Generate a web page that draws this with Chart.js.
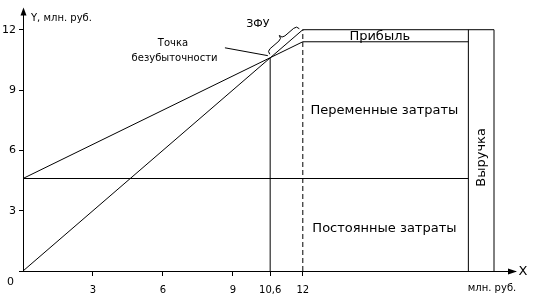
<!DOCTYPE html>
<html>
<head>
<meta charset="utf-8">
<script src="https://cdn.jsdelivr.net/npm/chart.js@4"></script>
<style>
  html, body { margin: 0; padding: 0; background: #fff; }
</style>
</head>
<body>
<canvas id="myChart" width="533" height="299"></canvas>
<script>
'use strict';

// ticks
var X_TICKS = [3, 6, 9, 10.6, 12];
var Y_TICKS = [0, 3, 6, 9, 12];

// break-even model, млн. руб.
var FIXED_COST = 4.6;
var BREAK_EVEN = 10.6;
var SALES = 12;
var TOTAL_COST_AT_SALES = 11.4;
var BOX_LEFT = 19.1;
var BOX_RIGHT = 20.2;

var revenueLine = [{x: 0, y: 0}, {x: SALES, y: SALES}, {x: BOX_RIGHT, y: SALES}];
var totalCostLine = [{x: 0, y: FIXED_COST}, {x: SALES, y: TOTAL_COST_AT_SALES}, {x: BOX_LEFT, y: TOTAL_COST_AT_SALES}];
var fixedCostLine = [{x: 0, y: FIXED_COST}, {x: BOX_LEFT, y: FIXED_COST}];
var breakEvenDrop = [{x: BREAK_EVEN, y: 0}, {x: BREAK_EVEN, y: BREAK_EVEN}];
var salesDrop = [{x: SALES, y: 0}, {x: SALES, y: SALES}];
var boxLeftLine = [{x: BOX_LEFT, y: 0}, {x: BOX_LEFT, y: SALES}];
var boxRightLine = [{x: BOX_RIGHT, y: 0}, {x: BOX_RIGHT, y: SALES}];
var leaderLine = [{x: 8.66, y: 11.1}, {x: 10.5, y: 10.71}];

// text labels placed in data units
var labels = [
  {text: 'Прибыль', x: 15.3, y: 11.64, size: 13},
  {text: 'Переменные затраты', x: 15.5, y: 7.98, size: 13},
  {text: 'Постоянные затраты', x: 15.5, y: 2.09, size: 13},
  {text: 'Точка', x: 6.43, y: 11.34, size: 10},
  {text: 'безубыточности', x: 6.5, y: 10.56, size: 10},
  {text: 'ЗФУ', x: 10.07, y: 12.3, size: 11},
  {text: 'Выручка', x: 19.67, y: 5.65, size: 13, rotate: true}
];

var FONT = '"DejaVu Sans", sans-serif';

function line(data, dash) {
  return {
    data: data,
    showLine: true,
    borderColor: '#000',
    borderWidth: 1,
    borderDash: dash || [],
    pointRadius: 0,
    fill: false
  };
}

var extras = {
  id: 'extras',
  afterDraw: function(chart) {
    var c = chart.ctx;
    var xs = chart.scales.x;
    var ys = chart.scales.y;
    var area = chart.chartArea;
    c.save();
    c.fillStyle = '#000';
    c.strokeStyle = '#000';
    c.lineWidth = 1;

    // arrows
    c.beginPath();
    c.moveTo(area.left + 0.5, area.top - 2);
    c.lineTo(area.left - 2.5, area.top + 6);
    c.lineTo(area.left + 3.5, area.top + 6);
    c.closePath();
    c.fill();
    var ay = ys.getPixelForValue(0) + 0.5;
    c.beginPath();
    c.moveTo(area.right + 2, ay);
    c.lineTo(area.right - 7, ay - 3);
    c.lineTo(area.right - 7, ay + 3);
    c.closePath();
    c.fill();

    // axis titles
    c.font = '10px ' + FONT;
    c.textBaseline = 'middle';
    c.textAlign = 'left';
    c.fillText('Y, млн. руб.', area.left + 8, area.top + 9);
    c.textAlign = 'center';
    c.fillText('млн. руб.', area.right - 23, ay + 17);
    c.font = '13px ' + FONT;
    c.fillText('X', area.right + 8, ay);
    c.font = '11px ' + FONT;
    c.textAlign = 'right';
    c.fillText('0', area.left - 9, ay + 11);

    // labels
    labels.forEach(function(l) {
      var px = xs.getPixelForValue(l.x);
      var py = ys.getPixelForValue(l.y);
      c.font = l.size + 'px ' + FONT;
      c.textAlign = 'center';
      c.textBaseline = 'middle';
      if (l.rotate) {
        c.save();
        c.translate(px, py);
        c.rotate(-Math.PI / 2);
        c.fillText(l.text, 0, 0);
        c.restore();
      } else {
        c.fillText(l.text, px, py);
      }
    });

    // brace for ЗФУ
    var ax = xs.getPixelForValue(BREAK_EVEN), ayb = ys.getPixelForValue(BREAK_EVEN);
    var bx = xs.getPixelForValue(SALES), by = ys.getPixelForValue(SALES);
    var L = Math.hypot(bx - ax, by - ayb);
    var dx = (bx - ax) / L, dy = (by - ayb) / L;
    var nx = dy, ny = -dx;
    function p(t, s) { return [ax + dx * t + nx * (s + 3), ayb + dy * t + ny * (s + 3)]; }
    var h1 = 4, h2 = 8, q = 4, m = L / 2;
    c.beginPath();
    var s0 = p(2, 0); c.moveTo(s0[0], s0[1]);
    var a = p(2, h1), b = p(2 + q, h1); c.quadraticCurveTo(a[0], a[1], b[0], b[1]);
    a = p(m - q, h1); c.lineTo(a[0], a[1]);
    a = p(m, h1); b = p(m, h2); c.quadraticCurveTo(a[0], a[1], b[0], b[1]);
    a = p(m, h1); b = p(m + q, h1); c.quadraticCurveTo(a[0], a[1], b[0], b[1]);
    a = p(L - 2 - q, h1); c.lineTo(a[0], a[1]);
    a = p(L - 2, h1); b = p(L - 2, 0); c.quadraticCurveTo(a[0], a[1], b[0], b[1]);
    c.stroke();
    c.restore();
  }
};

var ctx = document.getElementById('myChart').getContext('2d');

var chart = new Chart(ctx, {
  type: 'scatter',
  data: {
    datasets: [
      line(revenueLine),
      line(totalCostLine),
      line(fixedCostLine),
      line(breakEvenDrop),
      line(salesDrop, [5, 3]),
      line(boxLeftLine),
      line(boxRightLine),
      line(leaderLine)
    ]
  },
  options: {
    responsive: false,
    animation: false,
    layout: { padding: { top: 4, right: 18, left: 0, bottom: 0 } },
    plugins: { legend: { display: false }, tooltip: { enabled: false } },
    scales: {
      x: {
        type: 'linear',
        min: 0,
        max: 21.1,
        afterBuildTicks: function(s) { s.ticks = X_TICKS.map(function(v) { return {value: v}; }); },
        afterFit: function(s) { s.height = 28; },
        grid: { drawOnChartArea: false, color: '#000', tickLength: 5 },
        border: { color: '#000', width: 1 },
        ticks: {
          color: '#000',
          font: { family: FONT, size: 10 },
          padding: 8,
          maxRotation: 0,
          autoSkip: false,
          callback: function(v) { return String(v).replace('.', ','); }
        }
      },
      y: {
        type: 'linear',
        min: 0,
        max: 13,
        afterBuildTicks: function(s) { s.ticks = Y_TICKS.map(function(v) { return {value: v}; }); },
        afterFit: function(s) { s.width = 23; },
        grid: { drawOnChartArea: false, color: '#000', tickLength: 4 },
        border: { color: '#000', width: 1 },
        ticks: {
          color: '#000',
          font: { family: FONT, size: 11 },
          padding: 3,
          autoSkip: false,
          callback: function(v) { return v === 0 ? '' : String(v); }
        }
      }
    }
  },
  plugins: [extras]
});
</script>
</body>
</html>
